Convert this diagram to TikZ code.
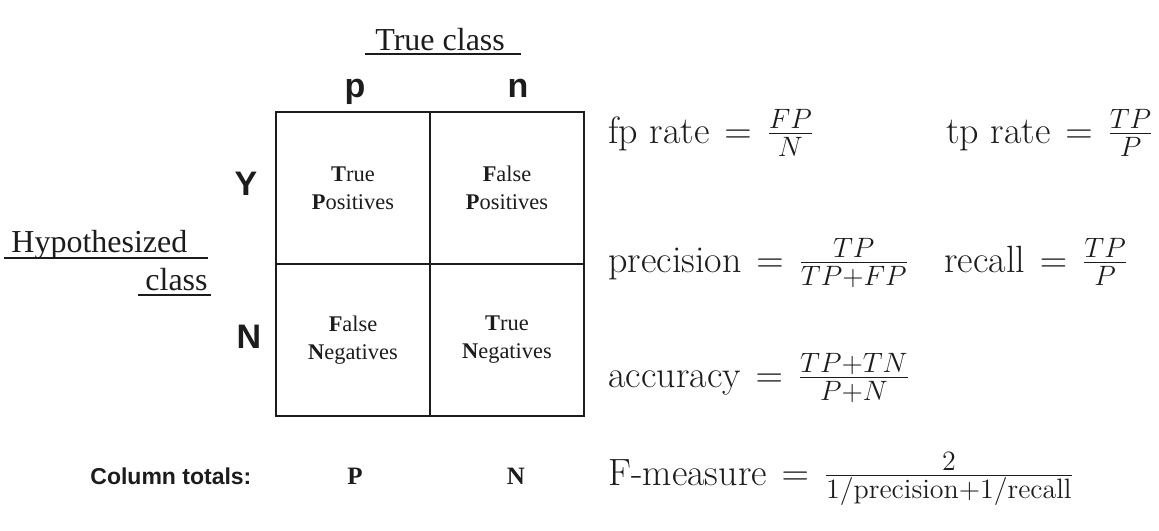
\RequirePackage{fix-cm}
\documentclass[tikz,border=0pt]{standalone}
\usepackage{fontspec}
\newfontfamily\timesfont{Liberation Serif}
\newfontfamily\arialfont{Liberation Sans}
\usetikzlibrary{positioning, calc}
\definecolor{ink}{HTML}{1c1c1c}
\DeclareMathSizes{19}{19}{14}{10}
\thickmuskip=7mu plus 2mu

\begin{document}
\begin{tikzpicture}[x=0.5pt, y=-0.5pt, color=ink,
  cell/.style={draw=ink, line width=0.9pt, minimum width=77pt, minimum height=76pt, inner sep=0pt, align=center, font=\timesfont\fontsize{11.2}{14}\selectfont},
  head/.style={anchor=base, inner sep=0pt, font=\arialfont\bfseries\fontsize{17}{20}\selectfont},
  axis/.style={inner sep=0pt, font=\timesfont\fontsize{16}{19}\selectfont},
  eqn/.style={anchor=base west, inner sep=0pt, font=\fontsize{19}{23}\selectfont}
]
  \useasboundingbox (0,0) rectangle (1159,530);

  \node[axis, anchor=base west] (truecls) at (375,50) {True class};
  \node[axis, anchor=base west] (hyp) at (11,252) {Hypothesized};
  \node[axis, anchor=base east] (hypcls) at (208,290) {class};
  \draw[line width=0.8pt] ($(truecls.base west)+(-10,4)$) -- ($(truecls.base east)+(16,4)$);
  \draw[line width=0.8pt] ($(hyp.base west)+(-7,6)$) -- ($(hyp.base east)+(20,6)$);
  \draw[line width=0.8pt] ($(hypcls.base west)+(-7,5)$) -- ($(hypcls.base east)+(3,5)$);

  \node[head] (colp) at (355,97) {p};
  \node[head] (coln) at (518,97) {n};
  \node[head] (rowy) at (246,195) {Y};
  \node[head] (rown) at (249,348) {N};

  \node[cell] (tp) at (353,188) {\textbf{T}rue\\\textbf{P}ositives};
  \node[cell] (fp) at (507,188) {\textbf{F}alse\\\textbf{P}ositives};
  \node[cell] (fn) at (353,340) {\textbf{F}alse\\\textbf{N}egatives};
  \node[cell] (tn) at (507,340) {\textbf{T}rue\\\textbf{N}egatives};

  \node[anchor=base west, inner sep=0pt, font=\arialfont\bfseries\fontsize{11.5}{14}\selectfont] (tot) at (90,484) {Column totals:};
  \node[anchor=base, inner sep=0pt, font=\timesfont\bfseries\fontsize{12.5}{15}\selectfont] (totp) at (355,484) {P};
  \node[anchor=base, inner sep=0pt, font=\timesfont\bfseries\fontsize{12.5}{15}\selectfont] (totn) at (516,484) {N};

  \node[eqn] (fprate) at (608,143) {$\mbox{fp rate} = \frac{FP}{N}$};
  \node[eqn] (tprate) at (946,143) {$\mbox{tp rate} = \frac{TP}{P}$};
  \node[eqn] (prec) at (608,272) {$\mbox{precision} = \frac{TP}{TP+FP}$};
  \node[eqn] (rec) at (944,272) {$\mbox{recall} = \frac{TP}{P}$};
  \node[eqn] (acc) at (608,387) {$\mbox{accuracy} = \frac{TP+TN}{P+N}$};
  \node[eqn] (fmeas) at (608,485) {$\mbox{F-measure} = \frac{2}{1/\mathrm{precision}+1/\mathrm{recall}}$};
\end{tikzpicture}
\end{document}
